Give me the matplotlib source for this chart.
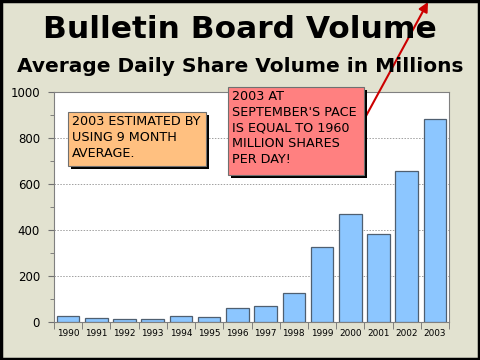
import matplotlib.pyplot as plt
from matplotlib.patches import Rectangle

years = ['1990', '1991', '1992', '1993', '1994', '1995', '1996',
         '1997', '1998', '1999', '2000', '2001', '2002', '2003']
volume = [25, 16, 12, 12, 27, 23, 62, 71, 125, 325, 468, 381, 655, 881]

title = 'Bulletin Board Volume'
subtitle = 'Average Daily Share Volume in Millions'
note_left = '2003 ESTIMATED BY\nUSING 9 MONTH\nAVERAGE.'
note_right = "2003 AT\nSEPTEMBER'S PACE\nIS EQUAL TO 1960\nMILLION SHARES\nPER DAY!"

W, H = 480, 360
bg = '#E2E2D0'
fig = plt.figure(figsize=(4.8, 3.6), dpi=100, facecolor=bg)

def px(x0, y0, x1, y1):
    # pixel box (top-left origin) -> figure fraction rect
    return [x0 / W, 1 - y1 / H, (x1 - x0) / W, (y1 - y0) / H]

ax = fig.add_axes(px(54, 92, 449, 322))
ax.set_facecolor('white')
x = range(len(years))
ax.bar(x, volume, width=0.8, color='#8CC6FF', edgecolor='#4F5F70',
       linewidth=0.9, zorder=3)
ax.set_xlim(-0.5, len(years) - 0.5)
ax.set_ylim(0, 1000)
ax.set_yticks(range(0, 1001, 200))
ax.set_yticks(range(100, 1000, 200), minor=True)
ax.tick_params(axis='y', labelsize=8.5, length=4, color='#707070', pad=6)
ax.tick_params(axis='y', which='minor', length=3, color='#707070')
ax.set_xticks(list(x))
ax.set_xticklabels(years, fontsize=6.4)
ax.set_xticks([i + 0.5 for i in range(-1, len(years))], minor=True)
ax.tick_params(axis='x', which='major', length=0, pad=5)
ax.tick_params(axis='x', which='minor', length=5, color='#707070')
ax.grid(axis='y', linestyle=(0, (1.5, 1.5)), color='#A0A0A0', linewidth=0.7, zorder=0)
for s in ax.spines.values():
    s.set_color('#808080')

fig.text(0.5, 1 - 30 / H, title, ha='center', va='center',
         fontsize=22.5, fontweight='bold')
fig.text(0.5, 1 - 66 / H, subtitle, ha='center', va='center',
         fontsize=14.5, fontweight='bold')

# note boxes with shadows
def note(x0, y0, x1, y1, color, txt):
    fig.patches.append(Rectangle(((x0 + 3) / W, 1 - (y1 + 3) / H), (x1 - x0) / W,
                                 (y1 - y0) / H, transform=fig.transFigure,
                                 facecolor='black', zorder=5))
    fig.patches.append(Rectangle((x0 / W, 1 - y1 / H), (x1 - x0) / W,
                                 (y1 - y0) / H, transform=fig.transFigure,
                                 facecolor=color, edgecolor='#707070',
                                 linewidth=0.8, zorder=6))
    fig.text((x0 + 4) / W, 1 - (y0 + 3) / H, txt, ha='left', va='top',
             fontsize=9.2, linespacing=1.28, zorder=7)

note(68, 112, 206, 166, '#FFC080', note_left)
note(228, 87, 364, 175, '#FF8080', note_right)

ax.annotate('', xy=(428, 358), xytext=(366, 244),
            xycoords='figure pixels', textcoords='figure pixels',
            arrowprops=dict(arrowstyle='-|>', color='#CC0000', lw=1.5,
                            mutation_scale=14, shrinkA=0, shrinkB=0),
            zorder=8, annotation_clip=False)

fig.patches.append(Rectangle((0.002, 0.003), 0.996, 0.994, transform=fig.transFigure,
                             fill=False, edgecolor='black', linewidth=2.5, zorder=10))

fig.savefig('out.png', dpi=100, facecolor=bg)
